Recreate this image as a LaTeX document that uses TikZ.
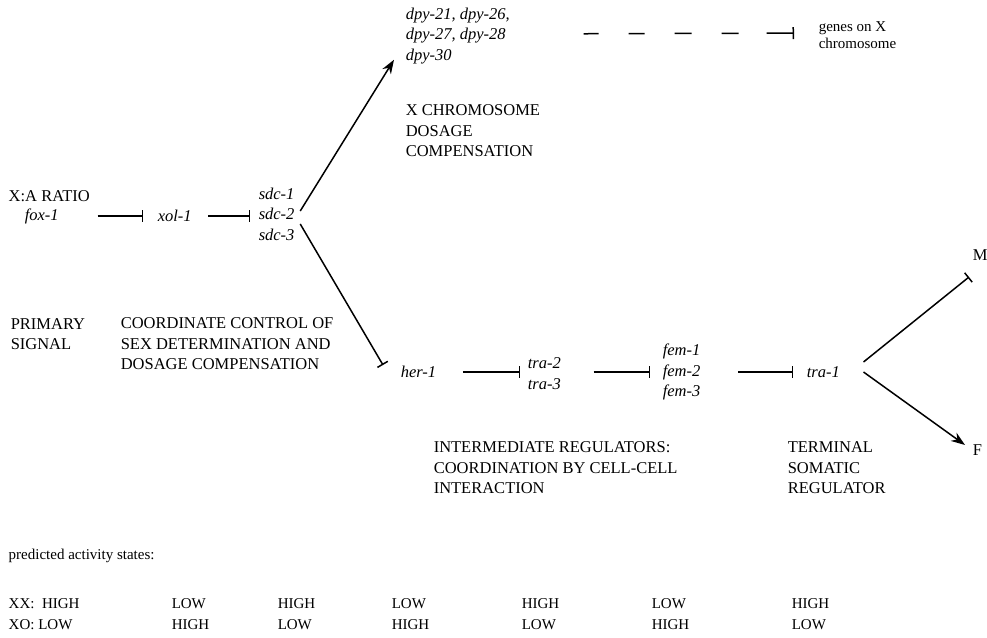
\documentclass[tikz,border=0pt]{standalone}
\usepackage{fontspec}
\setmainfont{Liberation Serif}
\usetikzlibrary{arrows.meta,positioning}

\tikzset{
  lbl/.style={anchor=west,inner sep=1pt,align=left,
              font=\fontsize{16.5}{20.5}\selectfont},
  gene/.style={lbl,font=\fontsize{16.5}{20.5}\selectfont\itshape},
  note/.style={anchor=west,inner sep=1pt,align=left,
               font=\fontsize{15}{17.5}\selectfont},
  statelbl/.style={anchor=west,inner sep=1pt,font=\fontsize{15}{17}\selectfont},
  inh/.style={-{Bar[width=12pt,line width=1.5pt]}},
  act/.style={-{Stealth[length=14pt,width=10pt]}}
}

\begin{document}
\begin{tikzpicture}[x=1pt,y=-1pt,line width=1.5pt]
  \useasboundingbox (0,0) rectangle (987,637);

  % primary signal
  \node[lbl]  (ratio) at (7,196)   {X:A RATIO};
  \node[gene] (fox)   at (23,216)  {fox-1};
  \node[gene] (xol)   at (156,216) {xol-1};
  \node[gene] (sdc)   at (257,214) {sdc-1\\sdc-2\\sdc-3};

  % dosage compensation branch
  \node[gene] (dpy)    at (404,36)  {dpy-21, dpy-26,\\dpy-27, dpy-28\\dpy-30};
  \node[lbl]  (xdc)    at (404,131) {X CHROMOSOME\\DOSAGE\\COMPENSATION};
  \node[note] (xgenes) at (817,35)  {genes on X\\chromosome};

  \node[lbl] (prim)  at (9,334)   {PRIMARY\\SIGNAL};
  \node[lbl] (coord) at (119,344) {COORDINATE CONTROL OF\\SEX DETERMINATION AND\\DOSAGE COMPENSATION};

  % sex determination branch
  \node[gene] (her)   at (399,372)   {her-1};
  \node[gene] (tra23) at (526,373.5) {tra-2\\tra-3};
  \node[gene] (fem)   at (661,372)   {fem-1\\fem-2\\fem-3};
  \node[gene] (tra1)  at (805,372)   {tra-1};
  \node[lbl]  (male)   at (971,255)  {M};
  \node[lbl]  (female) at (971,450)  {F};

  \node[lbl] (inter) at (432,468) {INTERMEDIATE REGULATORS:\\COORDINATION BY CELL-CELL\\INTERACTION};
  \node[lbl] (term)  at (786,468) {TERMINAL\\SOMATIC\\REGULATOR};

  % activity states
  \node[statelbl] (pred) at (7,556) {predicted activity states:};
  \node[statelbl] (xx0) at (7,604) {XX:\ \ HIGH};
  \node[statelbl] (xo0) at (7,625) {XO: LOW};
  \foreach \i/\xx/\a/\b in {1/170/LOW/HIGH,2/276/HIGH/LOW,3/390/LOW/HIGH,
                            4/520/HIGH/LOW,5/650/LOW/HIGH,6/790/HIGH/LOW}{
    \node[statelbl] (xx\i) at (\xx,604) {\a};
    \node[statelbl] (xo\i) at (\xx,625) {\b};
  }

  \draw[inh,shorten <=6pt,shorten >=13pt] (fox.east -| ratio.east) -- (xol.west);
  \draw[inh,shorten <=15pt,shorten >=7pt] (xol.east) -- (xol.east -| sdc.west);
  \draw[act] ([xshift=4pt,yshift=3pt]sdc.east) -- ([xshift=-10pt,yshift=6pt]dpy.south west);
  \draw[inh] ([xshift=4pt,yshift=-10pt]sdc.east) -- ([xshift=-16pt,yshift=7pt]her.west);
  \draw[inh,dash pattern=on 15pt off 30pt on 16pt off 30pt on 17pt off 30pt on 17pt off 28pt on 30pt off 10pt,
        shorten <=72pt,shorten >=23pt]
    ([yshift=2pt]dpy.east) -- ([yshift=2pt]xgenes.west);

  \draw[inh,shorten <=25pt,shorten >=6pt] (her.east) -- (her.east -| tra23.west);
  \draw[inh,shorten <=31pt,shorten >=11pt] (tra23.east |- fem.west) -- (fem.west);
  \draw[inh,shorten <=36pt,shorten >=12pt] (fem.east) -- (tra1.west);
  \draw[inh] ([xshift=22pt,yshift=10pt]tra1.east) -- ([xshift=-2pt,yshift=-22pt]male.west);
  \draw[act] ([xshift=22pt]tra1.east) -- ([xshift=-6pt,yshift=5pt]female.west);
\end{tikzpicture}
\end{document}
